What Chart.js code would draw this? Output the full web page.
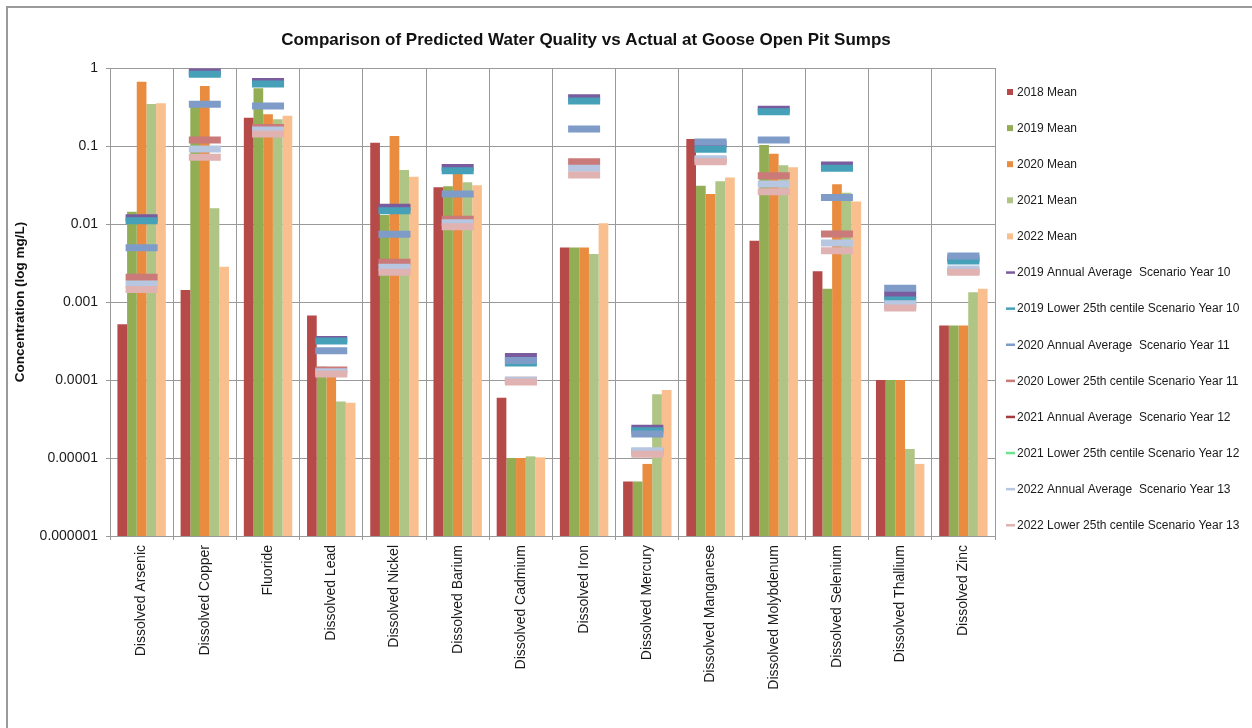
<!DOCTYPE html>
<html>
<head>
<meta charset="utf-8">
<title>Goose Open Pit Sumps</title>
<script src="https://cdn.jsdelivr.net/npm/chart.js@4.4.1/dist/chart.umd.min.js"></script>
<style>
  html, body { margin: 0; padding: 0; background: #fff; }
  #frame { position: absolute; left: 6px; top: 6px; width: 1300px; height: 800px; border: 1px solid #8c8c8c; border-width: 2px 0 0 2px; border-color: #9a9a9a; }
  #wrap { position: absolute; left: 0; top: 0; width: 1252px; height: 728px; }
</style>
</head>
<body>
<div id="frame"></div>
<div id="wrap"><canvas id="chart"></canvas></div>
<script>
const categories = [
  "Dissolved Arsenic", "Dissolved Copper", "Fluoride", "Dissolved Lead", "Dissolved Nickel",
  "Dissolved Barium", "Dissolved Cadmium", "Dissolved Iron", "Dissolved Mercury",
  "Dissolved Manganese", "Dissolved Molybdenum", "Dissolved Selenium", "Dissolved Thallium", "Dissolved Zinc"
];

// measured means (mg/L)
const mean2018 = [0.00052, 0.00143, 0.231, 0.00067, 0.110, 0.0295, 0.000059, 0.005, 0.000005, 0.123, 0.0061, 0.00247, 0.0001, 0.0005];
const mean2019 = [0.0144, 0.33, 0.55, 0.000148, 0.013, 0.0304, 0.00001, 0.005, 0.000005, 0.031, 0.103, 0.00148, 0.0001, 0.0005];
const mean2020 = [0.668, 0.588, 0.255, 0.000128, 0.134, 0.045, 0.00001, 0.005, 0.0000084, 0.0243, 0.0797, 0.0323, 0.0001, 0.0005];
const mean2021 = [0.345, 0.0159, 0.22, 0.0000532, 0.0492, 0.0342, 0.0000105, 0.00412, 0.0000655, 0.0352, 0.0565, 0.0252, 0.000013, 0.00133];
const mean2022 = [0.352, 0.00284, 0.245, 0.0000512, 0.0404, 0.0313, 0.0000102, 0.0102, 0.0000745, 0.0396, 0.0533, 0.0195, 0.0000084, 0.00148];

// predicted scenario values (mg/L)
const avg2019Y10 = [0.012, 0.89, 0.67, 0.00033, 0.0164, 0.0532, 0.0002, 0.417, 0.000024, 0.105, 0.295, 0.057, 0.00125, 0.0036];
const low2019Y10 = [0.011, 0.83, 0.624, 0.000316, 0.0148, 0.0483, 0.000165, 0.377, 0.0000224, 0.0906, 0.275, 0.0517, 0.00106, 0.00336];
const avg2020Y11 = [0.00497, 0.342, 0.326, 0.000238, 0.00737, 0.0243, 0.000178, 0.165, 0.0000203, 0.1125, 0.119, 0.0218, 0.0015, 0.0039];
const low2020Y11 = [0.00207, 0.119, 0.173, 0.000134, 0.00323, 0.0115, 0.0000995, 0.063, 0.000012, 0.066, 0.0417, 0.00745, 0.0009, 0.0025];
const avg2021Y12 = [null, null, null, null, null, null, null, null, null, null, null, null, null, null];
const low2021Y12 = [null, null, null, null, null, null, null, null, null, null, null, null, null, null];
const avg2022Y13 = [0.0017, 0.0916, 0.16, 0.000128, 0.00278, 0.0104, 0.0000995, 0.0517, 0.0000124, 0.0688, 0.0326, 0.0057, 0.00095, 0.00265];
const low2022Y13 = [0.00145, 0.0716, 0.143, 0.000119, 0.0024, 0.00925, 0.000094, 0.0425, 0.0000112, 0.063, 0.026, 0.00455, 0.00084, 0.0024];

const yTickValues = [0.000001, 0.00001, 0.0001, 0.001, 0.01, 0.1, 1];
const yTickLabels = ["0.000001", "0.00001", "0.0001", "0.001", "0.01", "0.1", "1"];

const FONT = '"Liberation Sans", Arial, sans-serif';
const GRID = "#9a9a9a";

const barSeries = [
  ["2018 Mean", mean2018, "#b64a48"],
  ["2019 Mean", mean2019, "#93ad55"],
  ["2020 Mean", mean2020, "#e98c40"],
  ["2021 Mean", mean2021, "#aec585"],
  ["2022 Mean", mean2022, "#f9bf8e"],
];
const markerSeries = [
  ["2019 Annual Average  Scenario Year 10", avg2019Y10, "#7a5c9e"],
  ["2019 Lower 25th centile Scenario Year 10", low2019Y10, "#46a0b8"],
  ["2020 Annual Average  Scenario Year 11", avg2020Y11, "#7f9bc8"],
  ["2020 Lower 25th centile Scenario Year 11", low2020Y11, "#ca7a79"],
  ["2021 Annual Average  Scenario Year 12", avg2021Y12, "#a33b3b"],
  ["2021 Lower 25th centile Scenario Year 12", low2021Y12, "#6be38e"],
  ["2022 Annual Average  Scenario Year 13", avg2022Y13, "#b7c6e1"],
  ["2022 Lower 25th centile Scenario Year 13", low2022Y13, "#e0b2b2"],
];

const datasets = [
  ...barSeries.map(([label, data, color]) => ({
    type: "bar",
    label,
    data,
    backgroundColor: color,
    borderWidth: 0,
    barPercentage: 1,
    categoryPercentage: 0.766,
    order: 100,
  })),
  // later scenario dashes sit on top of earlier ones
  ...markerSeries.map(([label, data, color], i) => ({
    type: "line",
    label,
    data,
    showLine: false,
    pointStyle: "line",
    pointRadius: 16,
    pointHoverRadius: 16,
    pointBorderWidth: 7,
    pointHoverBorderWidth: 7,
    pointBorderColor: color,
    pointBackgroundColor: color,
    borderColor: color,
    order: -i,
  })),
];

// title and the side legend are drawn by hand so they sit where the layout needs them
const decorations = {
  id: "decorations",
  afterDraw(chart) {
    const { ctx, chartArea } = chart;
    ctx.save();
    ctx.fillStyle = "#111";
    ctx.font = `bold 17px ${FONT}`;
    ctx.textAlign = "center";
    ctx.textBaseline = "middle";
    ctx.fillText("Comparison of Predicted Water Quality vs Actual at Goose Open Pit Sumps", 586, 40);

    ctx.font = `12px ${FONT}`;
    ctx.textAlign = "left";
    const x0 = chartArea.right + 12;
    chart.data.datasets.forEach((ds, i) => {
      const y = 92 + i * 36.1;
      const color = ds.type === "bar" ? ds.backgroundColor : ds.pointBorderColor;
      ctx.fillStyle = color;
      if (ds.type === "bar") {
        ctx.fillRect(x0, y - 3, 6, 6);
      } else {
        ctx.fillRect(x0 - 1, y - 1.2, 9, 2.5);
      }
      ctx.fillStyle = "#1a1a1a";
      ctx.fillText(ds.label, x0 + 10, y + 0.5);
    });
    ctx.restore();
  },
};

new Chart(document.getElementById("chart"), {
  data: { labels: categories, datasets },
  plugins: [decorations],
  options: {
    responsive: true,
    maintainAspectRatio: false,
    animation: false,
    layout: { padding: { left: 8, top: 68, right: 257, bottom: 0 } },
    plugins: {
      legend: { display: false },
      title: { display: false },
      tooltip: { enabled: false },
    },
    scales: {
      x: {
        grid: { color: GRID, tickLength: 4, offset: true },
        border: { color: GRID },
        ticks: {
          autoSkip: false,
          maxRotation: 90,
          minRotation: 90,
          padding: 5,
          color: "#1a1a1a",
          font: { family: FONT, size: 14 },
        },
        afterFit(scale) { scale.height = 192; },
      },
      y: {
        type: "logarithmic",
        min: 0.000001,
        max: 1,
        afterBuildTicks(scale) {
          scale.ticks = yTickValues.map((v) => ({ value: v }));
        },
        afterFit(scale) { scale.width = 102; },
        grid: { color: GRID, tickLength: 4 },
        border: { color: GRID },
        ticks: {
          padding: 8,
          color: "#1a1a1a",
          font: { family: FONT, size: 14 },
          callback: (value) => yTickLabels[yTickValues.findIndex((v) => Math.abs(Math.log10(v) - Math.log10(value)) < 1e-6)],
        },
        title: {
          display: true,
          text: "Concentration (log mg/L)",
          color: "#111",
          font: { family: FONT, size: 13.5, weight: "bold" },
          padding: { top: 4, bottom: 0 },
        },
      },
    },
  },
});
</script>
</body>
</html>
